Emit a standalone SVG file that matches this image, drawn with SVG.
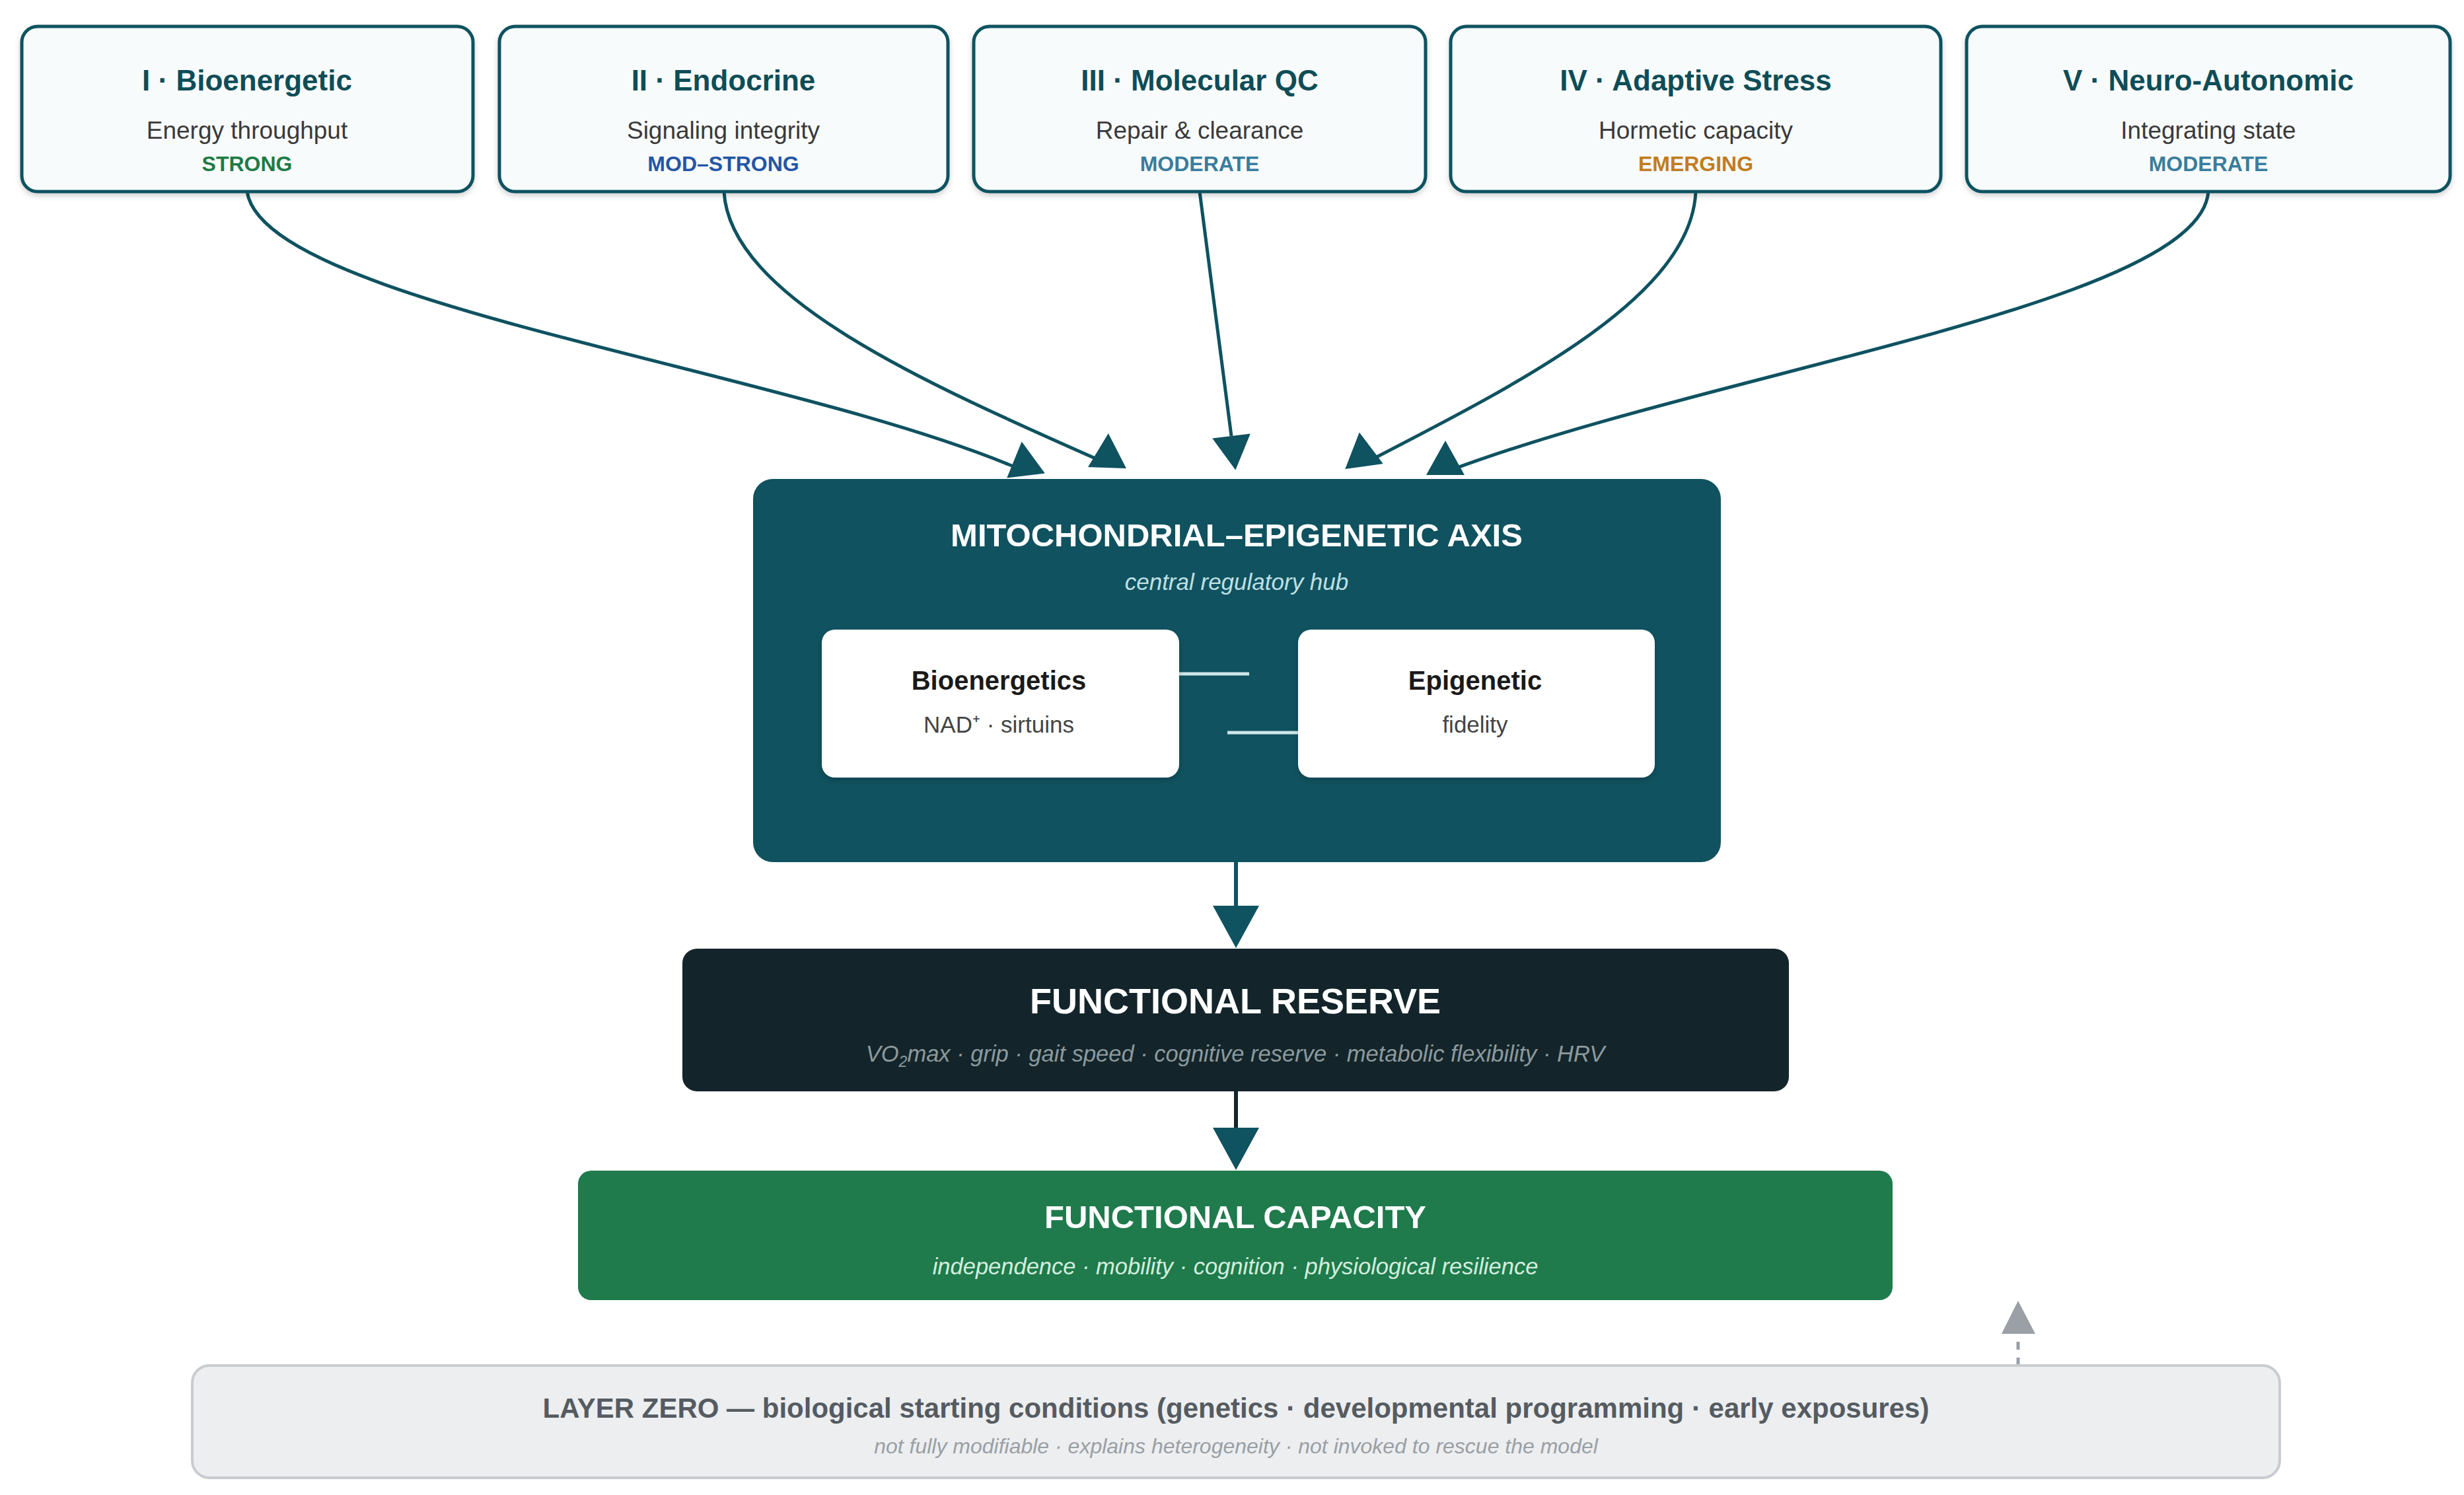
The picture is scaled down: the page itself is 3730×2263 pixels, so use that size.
<svg xmlns="http://www.w3.org/2000/svg" xmlns:xlink="http://www.w3.org/1999/xlink" width="3730" height="2263" viewBox="0 0 3730 2263">
<defs>
<filter id="sh" x="-5%" y="-10%" width="110%" height="130%">
<feDropShadow dx="0" dy="4" stdDeviation="4" flood-color="#000" flood-opacity="0.18"/>
</filter>
<path id="ahS" d="M-29,0 L29,0 L0,-52 Z" fill="#0f5260"/>
<path id="ahL" d="M-35,0 L35,0 L0,64 Z" fill="#0f5260"/>
<style>
text{font-family:"Liberation Sans",Arial,sans-serif;text-anchor:middle}
.pill{fill:#f8fbfb;stroke:#0f5260;stroke-width:5;filter:url(#sh)}
.pt{font-size:44px;font-weight:bold;fill:#0e4d57}
.ps{font-size:37px;fill:#3a3a3a}
.tag{font-size:32px;font-weight:bold}
.con{fill:none;stroke:#0f5260;stroke-width:5}
.inner{fill:#ffffff;filter:url(#sh)}
.it{font-size:40px;font-weight:bold;fill:#1a1a1a}
.is{font-size:35px;fill:#444}
</style>
</defs>
<rect width="3730" height="2263" fill="#ffffff"/>

<g id="connectors">
<path class="con" d="M374,290 C400,460 1200,560 1548,712"/>
<path class="con" d="M1096,290 C1105,450 1400,580 1672,700"/>
<path class="con" d="M1816,290 L1864,660" stroke-width="4"/>
<path class="con" d="M2567,290 C2560,450 2300,580 2068,700"/>
<path class="con" d="M3343,290 C3330,460 2600,560 2195,712"/>
<use href="#ahS" transform="translate(1553,720) rotate(-7)"/>
<use href="#ahS" transform="translate(1676,708) rotate(2)"/>
<use href="#ahS" transform="translate(1864,660) rotate(173)"/>
<use href="#ahS" transform="translate(2065,706) rotate(-8)"/>
<use href="#ahS" transform="translate(2188,719) rotate(0)"/>
<line x1="1871" y1="1305" x2="1871" y2="1375" stroke="#0f5260" stroke-width="6"/>
<use href="#ahL" transform="translate(1871,1371)"/>
<line x1="1871" y1="1652" x2="1871" y2="1710" stroke="#13252a" stroke-width="6"/>
<use href="#ahL" transform="translate(1871,1707)"/>
<line x1="3055" y1="2067" x2="3055" y2="2019" stroke="#9aa0a6" stroke-width="5" stroke-dasharray="12 12"/>
<path d="M3030,2019 L3081,2019 L3055,1969 Z" fill="#9aa0a6"/>
</g>

<g id="node-bioenergetic">
<rect class="pill" x="33" y="40" width="683" height="250" rx="24"/>
<text class="pt" x="374" y="137">I · Bioenergetic</text>
<text class="ps" x="374" y="210">Energy throughput</text>
<text class="tag" x="374" y="259" fill="#1e7b45">STRONG</text>
</g>
<g id="node-endocrine">
<rect class="pill" x="756" y="40" width="679" height="250" rx="24"/>
<text class="pt" x="1095" y="137">II · Endocrine</text>
<text class="ps" x="1095" y="210">Signaling integrity</text>
<text class="tag" x="1095" y="259" fill="#2456a6">MOD–STRONG</text>
</g>
<g id="node-molecular-qc">
<rect class="pill" x="1474" y="40" width="684" height="250" rx="24"/>
<text class="pt" x="1816" y="137">III · Molecular QC</text>
<text class="ps" x="1816" y="210">Repair &amp; clearance</text>
<text class="tag" x="1816" y="259" fill="#3a7d9c">MODERATE</text>
</g>
<g id="node-adaptive-stress">
<rect class="pill" x="2196" y="40" width="742" height="250" rx="24"/>
<text class="pt" x="2567" y="137">IV · Adaptive Stress</text>
<text class="ps" x="2567" y="210">Hormetic capacity</text>
<text class="tag" x="2567" y="259" fill="#c27c1e">EMERGING</text>
</g>
<g id="node-neuro-autonomic">
<rect class="pill" x="2977" y="40" width="732" height="250" rx="24"/>
<text class="pt" x="3343" y="137">V · Neuro-Autonomic</text>
<text class="ps" x="3343" y="210">Integrating state</text>
<text class="tag" x="3343" y="259" fill="#3a7d9c">MODERATE</text>
</g>

<g id="node-hub">
<rect x="1140" y="725" width="1465" height="580" rx="30" fill="#10525f"/>
<text x="1872" y="827" font-size="49" font-weight="bold" fill="#ffffff">MITOCHONDRIAL–EPIGENETIC AXIS</text>
<text x="1872" y="893" font-size="35" font-style="italic" fill="#bfe0e4">central regulatory hub</text>
<line x1="1785" y1="1020" x2="1891" y2="1020" stroke="#cfe5e8" stroke-width="5"/>
<line x1="1858" y1="1109" x2="1965" y2="1109" stroke="#cfe5e8" stroke-width="5"/>
</g>
<g id="node-bioenergetics">
<rect class="inner" x="1244" y="953" width="541" height="224" rx="20"/>
<text class="it" x="1512" y="1044">Bioenergetics</text>
<text class="is" x="1512" y="1109">NAD⁺ · sirtuins</text>
</g>
<g id="node-epigenetic">
<rect class="inner" x="1965" y="953" width="540" height="224" rx="20"/>
<text class="it" x="2233" y="1044">Epigenetic</text>
<text class="is" x="2233" y="1109">fidelity</text>
</g>

<g id="node-functional-reserve">
<rect x="1033" y="1436" width="1675" height="216" rx="22" fill="#13252a"/>
<text x="1870" y="1534" font-size="54" font-weight="bold" fill="#ffffff">FUNCTIONAL RESERVE</text>
<text x="1870" y="1607" font-size="34.5" font-style="italic" fill="#8d9a9e">VO<tspan font-size="23" dy="8">2</tspan><tspan dy="-8">max · grip · gait speed · cognitive reserve · metabolic flexibility · HRV</tspan></text>
</g>

<g id="node-functional-capacity">
<rect x="875" y="1772" width="1990" height="196" rx="20" fill="#1f7a4c"/>
<text x="1870" y="1859" font-size="49" font-weight="bold" fill="#ffffff">FUNCTIONAL CAPACITY</text>
<text x="1870" y="1929" font-size="34.5" font-style="italic" fill="#d3eedd">independence · mobility · cognition · physiological resilience</text>
</g>

<g id="node-layer-zero">
<rect x="291" y="2067" width="3160" height="170" rx="26" fill="#eceef0" stroke="#c8ccd0" stroke-width="4"/>
<text x="1871" y="2146" font-size="42" font-weight="bold" fill="#555b61">LAYER ZERO — biological starting conditions (genetics · developmental programming · early exposures)</text>
<text x="1871" y="2200" font-size="32" font-style="italic" fill="#9a9fa4">not fully modifiable · explains heterogeneity · not invoked to rescue the model</text>
</g>
</svg>
